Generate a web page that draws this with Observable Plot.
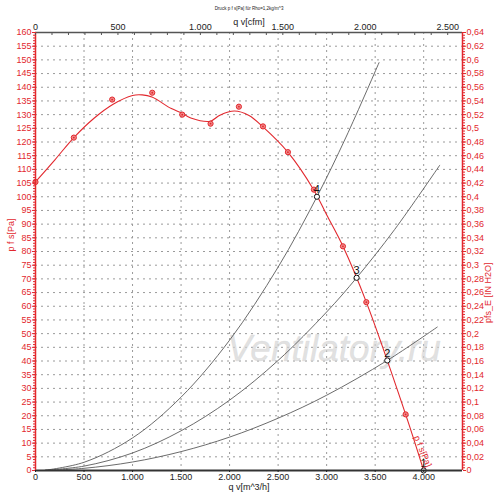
<!DOCTYPE html>
<html><head><meta charset="utf-8">
<script src="https://cdn.jsdelivr.net/npm/d3@7"></script>
<script src="https://cdn.jsdelivr.net/npm/@observablehq/plot@0.6"></script>
<style>
html,body{margin:0;padding:0;background:#fff;}
</style>
</head><body><div id="chart"></div>
<script>
// ---- data ----
const RED = "#e2282e";
const CFM = 1.699; // m3/h per cfm

// measured points of the fan curve (m3/h, Pa)
const markX = [0, 395, 790, 1203, 1512, 1804, 2096, 2344, 2601, 2869, 3168, 3409, 3814];
const markY = [105.4, 121.6, 135.5, 138, 130, 126.7, 132.9, 125.7, 116.3, 102.6, 81.9, 61.5, 20.5];

// fitted fan curve
const curveX = [0, 200, 400, 600, 800, 1000, 1100, 1200, 1400, 1500, 1600, 1800, 1900, 2050, 2200, 2344, 2600, 2869, 3000, 3168, 3409, 3814, 4000];
const curveY = [105.4, 113.5, 121.8, 128.6, 133.8, 137, 137.2, 136.4, 132.2, 130.7, 128.8, 127.6, 129.8, 131.3, 129.7, 125.5, 116.3, 102.4, 93.4, 81.9, 61.5, 20.5, 0];

// system curves
const sys4X = [100, 500, 1000, 1500, 2000, 2500, 2900, 3200, 3540];
const sys4Y = [0.1, 3.0, 11.9, 26.8, 47.6, 74.3, 100, 121.8, 149];
const sys3X = [100, 500, 1000, 1500, 2000, 2500, 3000, 3309, 3700, 4165];
const sys3Y = [0.1, 1.6, 6.4, 14.5, 25.7, 40.2, 57.9, 70.4, 88, 111.5];
const sys2X = [100, 500, 1000, 1500, 2000, 2500, 3000, 3625, 4140];
const sys2Y = [0, 0.8, 3.1, 6.9, 12.2, 19.1, 27.5, 40.2, 52.4];

// operating points
const opX = [2900, 3309, 3625, 4000];
const opY = [100, 70.4, 40.2, 0];
const opLabel = ["4", "3", "2", "1"];

// tick values
const bottomTicks = d3.range(0, 4001, 500);
const topTicksCfm = [0, 500, 1000, 1500, 2000, 2500];
const topMinorCfm = d3.range(0, 2600, 100);
const leftTicks = d3.range(0, 161, 5);
const leftMinor = d3.range(0, 161, 1);
const gridX = d3.range(500, 4001, 500);
const gridY = d3.range(5, 156, 5);

// ---- build ----
const loc = d3.formatLocale({decimal: ",", thousands: ".", grouping: [3], currency: ["", ""]});
const fmtK = loc.format(",d");
const fmtDec = v => String(+v.toFixed(2)).replace(".", ",");

const curve = curveX.map((x, i) => ({x, y: curveY[i]}));
const marks = markX.map((x, i) => ({x, y: markY[i]}));
const sys = [
  ...sys4X.map((x, i) => ({x, y: sys4Y[i], s: 4})),
  ...sys3X.map((x, i) => ({x, y: sys3Y[i], s: 3})),
  ...sys2X.map((x, i) => ({x, y: sys2Y[i], s: 2}))
];
const ops = opX.map((x, i) => ({x, y: opY[i], n: opLabel[i]}));

const chart = Plot.plot({
  width: 500,
  height: 501,
  marginLeft: 35,
  marginRight: 38,
  marginTop: 32,
  marginBottom: 31,
  x: {domain: [0, 4400]},
  y: {domain: [0, 160]},
  style: {fontFamily: "'Liberation Sans', Arial, sans-serif", fontSize: "9px", background: "#fff", overflow: "visible"},
  marks: [
    Plot.gridX(gridX, {stroke: "#9a9a9a", strokeOpacity: 1, strokeDasharray: "2,4"}),
    Plot.gridY(gridY, {stroke: "#9a9a9a", strokeOpacity: 1, strokeDasharray: "2,4"}),
    // watermark
    Plot.text(["Ventilatory.ru"], {frameAnchor: "middle", dx: 85, dy: 98, fontSize: 37, fontStyle: "italic", fill: "#d4d4d4", fillOpacity: 0.7, stroke: "#bbb", strokeOpacity: 0.35, strokeWidth: 0.5}),
    // system curves
    Plot.line(sys, {x: "x", y: "y", z: "s", stroke: "#5a5a5a", strokeWidth: 0.9, curve: "catmull-rom"}),
    // fan curve
    Plot.line(curve, {x: "x", y: "y", stroke: RED, strokeWidth: 1.1, curve: "catmull-rom"}),
    Plot.dot(marks, {x: "x", y: "y", r: 2.6, stroke: RED, fill: "#f08a8a", strokeWidth: 1}),
    Plot.dot(marks, {x: "x", y: "y", r: 0.9, fill: RED}),
    // operating points
    Plot.dot(ops, {x: "x", y: "y", r: 2.6, stroke: "#111", fill: "#fff", strokeWidth: 1}),
    Plot.text(ops, {x: "x", y: "y", text: "n", dy: -7, fontSize: 11, fill: "#111"}),
    Plot.text(["p f s[Pa]"], {x: [3990], y: [7], rotate: 68, fill: RED, fontSize: 9}),
    // axis lines
    Plot.ruleY([0], {stroke: "#333", strokeWidth: 2}),
    Plot.ruleY([160], {stroke: "#555", strokeWidth: 1.5}),
    Plot.ruleX([0], {stroke: RED, strokeWidth: 1.5}),
    Plot.ruleX([4400], {stroke: RED, strokeWidth: 1.5}),
    // left axis
    Plot.axisY(leftMinor, {anchor: "left", color: RED, tickSize: 2, tickFormat: () => "", label: null}),
    Plot.axisY(leftTicks, {anchor: "left", color: RED, tickSize: 3, tickPadding: 1, tickFormat: d => String(d), label: null, fontSize: 9}),
    // right axis
    Plot.axisY(leftMinor, {anchor: "right", color: RED, tickSize: 2, tickFormat: () => "", label: null}),
    Plot.axisY(leftTicks, {anchor: "right", color: RED, tickSize: 3, tickPadding: 1, tickFormat: d => fmtDec(d / 250), label: null, fontSize: 9}),
    // bottom axis
    Plot.axisX(bottomTicks, {anchor: "bottom", color: "#222", tickSize: 2, tickPadding: 1, tickFormat: d => fmtK(d), label: null, fontSize: 9}),
    // top axis
    Plot.axisX(topMinorCfm.map(c => c * CFM), {anchor: "top", color: "#555", tickSize: -2, tickFormat: () => "", label: null}),
    Plot.axisX(topTicksCfm.map(c => c * CFM), {anchor: "top", color: "#222", tickSize: 0, tickPadding: 3, tickFormat: d => fmtK(Math.round(d / CFM)), label: null, fontSize: 9}),
    // axis titles
    Plot.text(["q v[cfm]"], {frameAnchor: "top", dy: -14, fontSize: 9, fill: "#222"}),
    Plot.text(["Druck p f s[Pa] für Rho=1,2kg/m^3"], {frameAnchor: "top", dy: -26, fontSize: 4.5, fill: "#222"}),
    Plot.text(["q v[m^3/h]"], {frameAnchor: "bottom", dy: 19, fontSize: 9, fill: "#222"}),
    Plot.text(["p f s[Pa]"], {frameAnchor: "left", dx: -24, rotate: -90, fontSize: 9, fill: RED}),
    Plot.text(["pfs_E [IN H2O]"], {frameAnchor: "right", dx: 26, dy: 11, rotate: -90, fontSize: 9, fill: RED})
  ]
});
document.getElementById("chart").appendChild(chart);
</script>
</body></html>
